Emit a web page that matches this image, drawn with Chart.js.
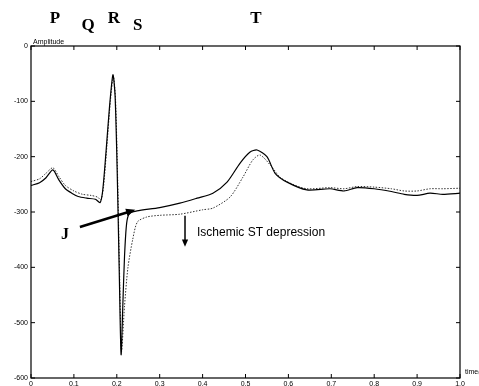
<!DOCTYPE html>
<html>
<head>
<meta charset="utf-8">
<title>Ischemic ST depression</title>
<script src="https://cdn.jsdelivr.net/npm/chart.js@4/dist/chart.umd.min.js"></script>
<style>
  html, body { margin: 0; padding: 0; background: #fff; }
  #wrap { width: 479px; height: 386px; position: relative; }
</style>
</head>
<body>
<div id="wrap"><canvas id="chart"></canvas></div>
<script>
'use strict';

// data (time in s, amplitude)
const timeNormal = [0, 0.02, 0.035, 0.051, 0.065, 0.08, 0.095, 0.11, 0.13, 0.15, 0.161, 0.167, 0.175, 0.183, 0.191, 0.196, 0.201, 0.206, 0.21, 0.214, 0.218, 0.223, 0.23, 0.247, 0.3, 0.347, 0.387, 0.424, 0.457, 0.487, 0.51, 0.527, 0.55, 0.569, 0.597, 0.643, 0.697, 0.73, 0.76, 0.8, 0.84, 0.87, 0.9, 0.93, 0.96, 1.0];
const ampNormal = [-252, -247, -238, -224, -242, -258, -266, -272, -275, -277, -283, -262, -190, -110, -52, -90, -230, -420, -558, -470, -380, -320, -302, -298, -292, -284, -275, -266, -246, -212, -192, -188, -200, -230, -246, -260, -258, -262, -256, -258, -263, -268, -270, -266, -268, -266];

const timeIschemic = [0, 0.02, 0.035, 0.051, 0.065, 0.08, 0.1, 0.12, 0.14, 0.155, 0.163, 0.169, 0.177, 0.185, 0.192, 0.197, 0.202, 0.207, 0.211, 0.218, 0.226, 0.237, 0.248, 0.27, 0.3, 0.347, 0.4, 0.424, 0.464, 0.494, 0.517, 0.534, 0.562, 0.58, 0.61, 0.643, 0.697, 0.73, 0.76, 0.8, 0.84, 0.87, 0.9, 0.93, 0.96, 1.0];
const ampIschemic = [-245, -240, -230, -220, -236, -252, -262, -268, -270, -273, -278, -255, -180, -100, -55, -95, -240, -430, -552, -470, -400, -350, -318, -309, -306, -304, -296, -293, -273, -237, -206, -197, -219, -237, -250, -258, -256, -258, -254, -255, -258, -262, -262, -258, -258, -257];

const xTicks = [0, 0.1, 0.2, 0.3, 0.4, 0.5, 0.6, 0.7, 0.8, 0.9, 1];
const yTicks = [0, -100, -200, -300, -400, -500, -600];

// wave letters above the plot: name and time
const waveNames = ['P', 'Q', 'R', 'S', 'T'];
const waveTimes = [0.056, 0.133, 0.193, 0.249, 0.524];
const waveLow = [false, true, false, true, false];

function toPoints(xs, ys) {
  return xs.map((x, i) => ({ x: x, y: ys[i] }));
}

function drawArrow(ctx, x1, y1, x2, y2, width, head) {
  const ang = Math.atan2(y2 - y1, x2 - x1);
  ctx.save();
  ctx.strokeStyle = '#000';
  ctx.fillStyle = '#000';
  ctx.lineWidth = width;
  ctx.beginPath();
  ctx.moveTo(x1, y1);
  ctx.lineTo(x2 - Math.cos(ang) * head * 0.8, y2 - Math.sin(ang) * head * 0.8);
  ctx.stroke();
  ctx.beginPath();
  ctx.moveTo(x2, y2);
  ctx.lineTo(x2 - head * Math.cos(ang - 0.4), y2 - head * Math.sin(ang - 0.4));
  ctx.lineTo(x2 - head * Math.cos(ang + 0.4), y2 - head * Math.sin(ang + 0.4));
  ctx.closePath();
  ctx.fill();
  ctx.restore();
}

// frame, inward ticks and the annotations
const decorPlugin = {
  id: 'decor',
  afterDraw(chart) {
    const ctx = chart.ctx;
    const a = chart.chartArea;
    const xs = chart.scales.x;
    const ys = chart.scales.y;

    ctx.save();
    ctx.strokeStyle = '#000';
    ctx.lineWidth = 1.2;
    ctx.strokeRect(a.left, a.top, a.right - a.left, a.bottom - a.top);

    ctx.lineWidth = 1;
    ctx.beginPath();
    for (let t of xTicks) {
      const px = xs.getPixelForValue(t);
      ctx.moveTo(px, a.bottom); ctx.lineTo(px, a.bottom - 4);
      ctx.moveTo(px, a.top); ctx.lineTo(px, a.top + 4);
    }
    for (let v of yTicks) {
      const py = ys.getPixelForValue(v);
      ctx.moveTo(a.left, py); ctx.lineTo(a.left + 4, py);
      ctx.moveTo(a.right, py); ctx.lineTo(a.right - 4, py);
    }
    ctx.stroke();

    // axis names
    ctx.fillStyle = '#000';
    ctx.font = '7px "Liberation Sans", Arial, sans-serif';
    ctx.textAlign = 'left';
    ctx.textBaseline = 'alphabetic';
    ctx.fillText('Amplitude', a.left + 2, a.top - 2);
    ctx.fillText('time(', a.right + 5, a.bottom - 4);

    // P Q R S T
    ctx.font = 'bold 17px "Liberation Serif", "Times New Roman", serif';
    ctx.textAlign = 'center';
    waveNames.forEach((name, i) => {
      ctx.fillText(name, xs.getPixelForValue(waveTimes[i]), waveLow[i] ? 30 : 23);
    });

    // J point
    ctx.font = 'bold 16px "Liberation Serif", "Times New Roman", serif';
    ctx.fillText('J', xs.getPixelForValue(0.079), ys.getPixelForValue(-338) + 6);
    drawArrow(ctx, xs.getPixelForValue(0.114), ys.getPixelForValue(-327),
      xs.getPixelForValue(0.243), ys.getPixelForValue(-296), 2.6, 10);

    // depression arrow and label
    drawArrow(ctx, xs.getPixelForValue(0.359), ys.getPixelForValue(-307),
      xs.getPixelForValue(0.359), ys.getPixelForValue(-363), 1.5, 8);
    ctx.font = '12px "Liberation Sans", Arial, sans-serif';
    ctx.textAlign = 'left';
    ctx.textBaseline = 'middle';
    ctx.fillText('Ischemic ST depression', xs.getPixelForValue(0.387), ys.getPixelForValue(-338));
    ctx.restore();
  }
};

const ctx = document.getElementById('chart').getContext('2d');
const ecgChart = new Chart(ctx, {
  type: 'line',
  data: {
    datasets: [{
      label: 'Normal',
      data: toPoints(timeNormal, ampNormal),
      borderColor: '#000',
      borderWidth: 1.2,
      pointRadius: 0,
      tension: 0.25
    }, {
      label: 'Ischemic',
      data: toPoints(timeIschemic, ampIschemic),
      borderColor: '#333',
      borderWidth: 1,
      borderDash: [1.5, 1.5],
      pointRadius: 0,
      tension: 0.25
    }]
  },
  options: {
    responsive: true,
    maintainAspectRatio: false,
    animation: false,
    events: [],
    layout: {
      padding: { top: 46, right: 19, bottom: 0, left: 0 }
    },
    plugins: {
      legend: { display: false },
      tooltip: { enabled: false }
    },
    scales: {
      x: {
        type: 'linear',
        min: 0,
        max: 1,
        afterFit(scale) { scale.height = 8; },
        afterBuildTicks(scale) { scale.ticks = xTicks.map(v => ({ value: v })); },
        grid: { display: false, drawTicks: false },
        border: { display: false },
        ticks: {
          padding: 2,
          color: '#000',
          font: { size: 7, family: '"Liberation Sans", Arial, sans-serif' },
          maxRotation: 0,
          autoSkip: false
        }
      },
      y: {
        min: -600,
        max: 0,
        afterFit(scale) { scale.width = 31; },
        afterBuildTicks(scale) { scale.ticks = yTicks.map(v => ({ value: v })); },
        grid: { display: false, drawTicks: false },
        border: { display: false },
        ticks: {
          padding: 3,
          color: '#000',
          font: { size: 7, family: '"Liberation Sans", Arial, sans-serif' },
          autoSkip: false
        }
      }
    }
  },
  plugins: [decorPlugin]
});
</script>
</body>
</html>
